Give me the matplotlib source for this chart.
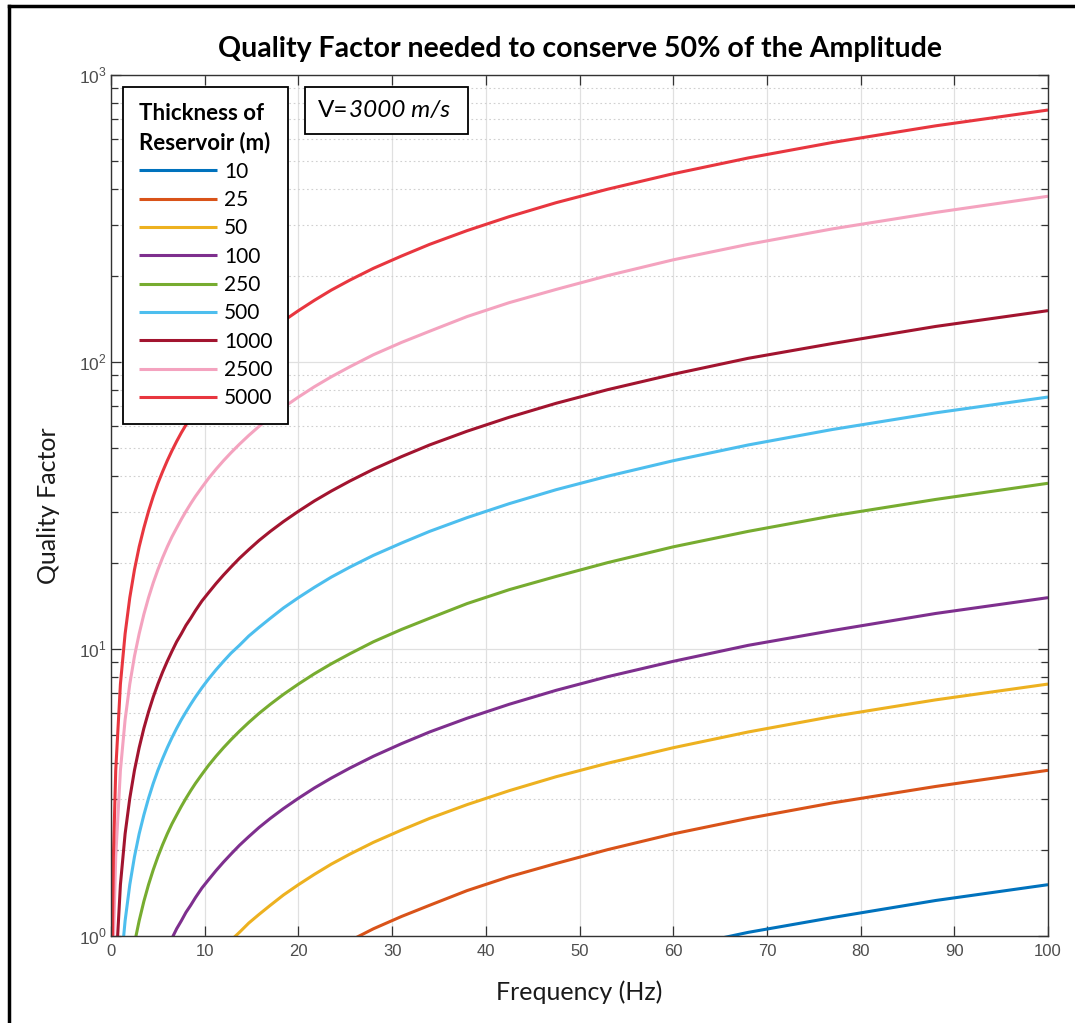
import matplotlib
matplotlib.use("Agg")
import numpy as np
import matplotlib.pyplot as plt
from matplotlib.lines import Line2D
from matplotlib.patches import Rectangle
from matplotlib.ticker import FixedLocator, FixedFormatter, LogLocator, NullFormatter

# frequency samples (Hz) and Q values
FREQ = [0.1, 0.25, 0.5, 1, 1.5, 2, 2.5, 3, 3.5, 4, 4.5, 5, 5.5, 6, 6.5, 7, 7.5, 8, 8.5, 9,
        9.7, 10.4, 11.2, 12, 12.8, 13.7, 14.7, 15.8, 17, 18.4, 20, 21.7, 23.5, 25.5, 28,
        31, 34, 38, 42.5, 47.5, 53, 60, 68, 77, 88, 100]

THICKNESS = ["10", "25", "50", "100", "250", "500", "1000", "2500", "5000"]

Q_10 = [0.00151, 0.00378, 0.00755, 0.0151, 0.0227, 0.0302, 0.0378, 0.0453, 0.0529, 0.0604,
        0.0680, 0.0755, 0.0831, 0.0906, 0.0982, 0.106, 0.113, 0.121, 0.128, 0.136,
        0.147, 0.157, 0.169, 0.181, 0.193, 0.207, 0.222, 0.239, 0.257, 0.278,
        0.302, 0.328, 0.355, 0.385, 0.423, 0.468, 0.514, 0.574, 0.642, 0.718,
        0.801, 0.906, 1.03, 1.16, 1.33, 1.51]
Q_25 = [0.00378, 0.00944, 0.0189, 0.0378, 0.0567, 0.0755, 0.0944, 0.113, 0.132, 0.151,
        0.170, 0.189, 0.208, 0.227, 0.246, 0.264, 0.283, 0.302, 0.321, 0.340,
        0.366, 0.393, 0.423, 0.453, 0.483, 0.517, 0.555, 0.597, 0.642, 0.695,
        0.755, 0.820, 0.888, 0.963, 1.06, 1.17, 1.28, 1.44, 1.61, 1.79,
        2.00, 2.27, 2.57, 2.91, 3.32, 3.78]
Q_50 = [0.00755, 0.0189, 0.0378, 0.0755, 0.113, 0.151, 0.189, 0.227, 0.264, 0.302,
        0.340, 0.378, 0.415, 0.453, 0.491, 0.529, 0.567, 0.604, 0.642, 0.680,
        0.733, 0.786, 0.846, 0.906, 0.967, 1.03, 1.11, 1.19, 1.28, 1.39,
        1.51, 1.64, 1.78, 1.93, 2.12, 2.34, 2.57, 2.87, 3.21, 3.59,
        4.00, 4.53, 5.14, 5.82, 6.65, 7.55]
Q_100 = [0.0151, 0.0378, 0.0755, 0.151, 0.227, 0.302, 0.378, 0.453, 0.529, 0.604,
         0.680, 0.755, 0.831, 0.906, 0.982, 1.06, 1.13, 1.21, 1.28, 1.36,
         1.47, 1.57, 1.69, 1.81, 1.93, 2.07, 2.22, 2.39, 2.57, 2.78,
         3.02, 3.28, 3.55, 3.85, 4.23, 4.68, 5.14, 5.74, 6.42, 7.18,
         8.01, 9.06, 10.3, 11.6, 13.3, 15.1]
Q_250 = [0.0378, 0.0944, 0.189, 0.378, 0.567, 0.755, 0.944, 1.13, 1.32, 1.51,
         1.70, 1.89, 2.08, 2.27, 2.46, 2.64, 2.83, 3.02, 3.21, 3.40,
         3.66, 3.93, 4.23, 4.53, 4.83, 5.17, 5.55, 5.97, 6.42, 6.95,
         7.55, 8.20, 8.88, 9.63, 10.6, 11.7, 12.8, 14.4, 16.1, 17.9,
         20.0, 22.7, 25.7, 29.1, 33.2, 37.8]
Q_500 = [0.0755, 0.189, 0.378, 0.755, 1.13, 1.51, 1.89, 2.27, 2.64, 3.02,
         3.40, 3.78, 4.15, 4.53, 4.91, 5.29, 5.67, 6.04, 6.42, 6.80,
         7.33, 7.86, 8.46, 9.06, 9.67, 10.3, 11.1, 11.9, 12.8, 13.9,
         15.1, 16.4, 17.8, 19.3, 21.2, 23.4, 25.7, 28.7, 32.1, 35.9,
         40.0, 45.3, 51.4, 58.2, 66.5, 75.5]
Q_1000 = [0.151, 0.378, 0.755, 1.51, 2.27, 3.02, 3.78, 4.53, 5.29, 6.04,
          6.80, 7.55, 8.31, 9.06, 9.82, 10.6, 11.3, 12.1, 12.8, 13.6,
          14.7, 15.7, 16.9, 18.1, 19.3, 20.7, 22.2, 23.9, 25.7, 27.8,
          30.2, 32.8, 35.5, 38.5, 42.3, 46.8, 51.4, 57.4, 64.2, 71.8,
          80.1, 90.6, 103, 116, 133, 151]
Q_2500 = [0.378, 0.944, 1.89, 3.78, 5.67, 7.55, 9.44, 11.3, 13.2, 15.1,
          17.0, 18.9, 20.8, 22.7, 24.6, 26.4, 28.3, 30.2, 32.1, 34.0,
          36.6, 39.3, 42.3, 45.3, 48.3, 51.7, 55.5, 59.7, 64.2, 69.5,
          75.5, 82.0, 88.8, 96.3, 106, 117, 128, 144, 161, 179,
          200, 227, 257, 291, 332, 378]
Q_5000 = [0.755, 1.89, 3.78, 7.55, 11.3, 15.1, 18.9, 22.7, 26.4, 30.2,
          34.0, 37.8, 41.5, 45.3, 49.1, 52.9, 56.7, 60.4, 64.2, 68.0,
          73.3, 78.6, 84.6, 90.6, 96.7, 103, 111, 119, 128, 139,
          151, 164, 178, 193, 212, 234, 257, 287, 321, 359,
          400, 453, 514, 582, 665, 755]

SERIES = [Q_10, Q_25, Q_50, Q_100, Q_250, Q_500, Q_1000, Q_2500, Q_5000]
COLORS = ["#0072BD", "#D95319", "#EDB120", "#7E2F8E", "#77AC30",
          "#4DBEEE", "#A2142F", "#F4A3BF", "#E8363F"]

XTICKS = [0, 10, 20, 30, 40, 50, 60, 70, 80, 90, 100]
YTICKS = [1, 10, 100, 1000]
YTICK_LABELS = ["$10^{0}$", "$10^{1}$", "$10^{2}$", "$10^{3}$"]

plt.rcParams["mathtext.fontset"] = "custom"
plt.rcParams["mathtext.rm"] = "Liberation Sans"
plt.rcParams["font.family"] = ["Lato", "DejaVu Sans"]

fig = plt.figure(figsize=(10.75, 10.23), dpi=100)
ax = fig.add_axes([0.1033, 0.085, 0.8716, 0.8417])

for vals, col, name in zip(SERIES, COLORS, THICKNESS):
    ax.plot(FREQ, vals, color=col, lw=2.2, label=name, solid_capstyle="butt")

ax.set_yscale("log")
ax.set_xlim(0, 100)
ax.set_ylim(1, 1000)
ax.xaxis.set_major_locator(FixedLocator(XTICKS))
ax.yaxis.set_major_locator(FixedLocator(YTICKS))
ax.yaxis.set_major_formatter(FixedFormatter(YTICK_LABELS))
ax.yaxis.set_minor_locator(LogLocator(base=10, subs=np.arange(2, 10)))
ax.yaxis.set_minor_formatter(NullFormatter())

ax.set_axisbelow(True)
ax.grid(which="major", color="#e0e0e0", lw=0.9)
ax.grid(which="minor", axis="y", color="#d0d0d0", lw=0.8, ls=(0, (1.5, 2.5)))

for sp in ax.spines.values():
    sp.set_color("#333333")
    sp.set_linewidth(1.0)
ax.tick_params(which="both", direction="in", top=True, right=True,
               color="#333333", width=0.9)
ax.tick_params(which="major", length=7.5, labelcolor="#4d4d4d")
ax.tick_params(which="minor", length=5)
ax.tick_params(axis="x", pad=6, labelsize=12)
ax.tick_params(axis="y", pad=3, labelsize=12.5)
for lab in ax.get_xticklabels():
    lab.set_family("Liberation Sans")

ax.set_xlabel("Frequency (Hz)", fontsize=18, labelpad=15, color="#1a1a1a")
ax.set_ylabel("Quality Factor", fontsize=18, labelpad=14, color="#1a1a1a")
ax.set_title("Quality Factor needed to conserve 50% of the Amplitude",
             fontsize=20.5, fontweight="bold", pad=13)

leg = ax.legend(title="Thickness of\nReservoir (m)", loc="upper left",
                bbox_to_anchor=(0.0128, 0.986), borderaxespad=0,
                fancybox=False, edgecolor="black", framealpha=1,
                handlelength=3.75, handletextpad=0.35, fontsize=15,
                labelspacing=0.40, borderpad=0.75,
                title_fontproperties={"weight": "bold", "size": 16})
leg.get_frame().set_linewidth(1.3)
leg.get_title().set_linespacing(1.45)
leg._legend_box.align = "left"

# velocity box
ax.add_patch(Rectangle((0.207, 0.9315), 0.174, 0.0545, transform=ax.transAxes,
                       facecolor="white", edgecolor="black", lw=1.3, zorder=5))
t1 = ax.text(0.221, 0.959, "V=", transform=ax.transAxes, fontsize=17.5,
             va="center", ha="left", zorder=6)
ax.annotate("3000 m/s", xy=(1, 0.5), xycoords=t1, va="center", ha="left",
            fontsize=17.5, style="italic", zorder=6)

# outer frame (left and top edges)
fig.add_artist(Line2D([9 / 1075, 9 / 1075], [0, 1 - 6 / 1023],
                      transform=fig.transFigure, color="black", lw=2.5))
fig.add_artist(Line2D([9 / 1075, 1], [1 - 6 / 1023, 1 - 6 / 1023],
                      transform=fig.transFigure, color="black", lw=2.5))

fig.savefig("out.png", dpi=100)
